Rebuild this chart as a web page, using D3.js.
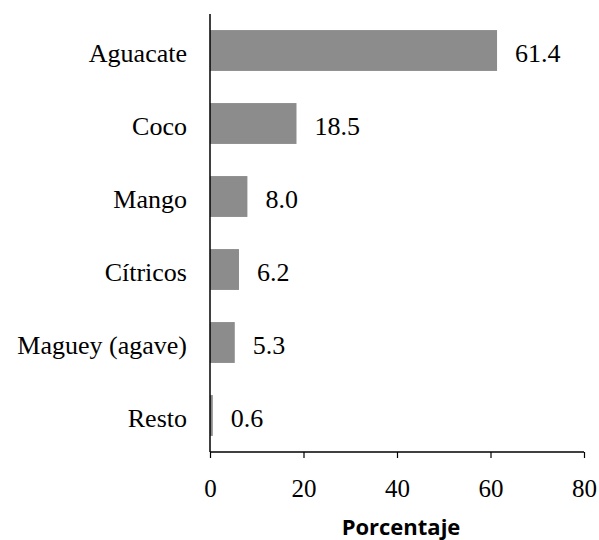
<!DOCTYPE html>
<html><head><meta charset="utf-8">
<script src="https://cdn.jsdelivr.net/npm/d3@7"></script>
</head><body style="margin:0">
<svg id="chart" width="599" height="540"></svg>
<script>
const categories = ["Aguacate", "Coco", "Mango", "Cítricos", "Maguey (agave)", "Resto"];
const values = [61.4, 18.5, 8.0, 6.2, 5.3, 0.6];
const xTicks = [0, 20, 40, 60, 80];
const xTitle = "Porcentaje";

const SERIF = '"Liberation Serif", monospace';
const svg = d3.select("#chart");
const x = d3.scaleLinear().domain([0, 80]).range([210, 584]);
const y = d3.scaleBand().domain(categories).range([14, 452]).paddingInner(0.44).paddingOuter(0.22);

svg.selectAll("rect.bar").data(categories).enter().append("rect")
  .attr("class", "bar")
  .attr("x", x(0))
  .attr("y", d => y(d))
  .attr("width", (d, i) => x(values[i]) - x(0))
  .attr("height", y.bandwidth())
  .attr("fill", "#8c8c8c");

svg.selectAll("text.val").data(categories).enter().append("text")
  .attr("class", "val")
  .attr("x", (d, i) => x(values[i]) + 18)
  .attr("y", d => y(d) + y.bandwidth() / 2 + 11)
  .style("font-family", SERIF)
  .style("font-size", "26px")
  .attr("fill", "#000")
  .text((d, i) => values[i].toFixed(1));

// x axis
const xAxis = d3.axisBottom(x).tickValues(xTicks).tickSize(6).tickPadding(0).tickFormat(d3.format("d"));
const gx = svg.append("g").attr("transform", "translate(0,452)").call(xAxis)
  .attr("font-family", null).attr("font-size", null);
gx.select(".domain").attr("stroke", "#000").attr("stroke-width", 1.5).attr("d", `M${x(0)},0H${x(80)}`);
gx.selectAll(".tick line").attr("stroke", "#000").attr("stroke-width", 1.2);
gx.selectAll(".tick text").attr("fill", "#000").attr("y", 45).attr("dy", null)
  .style("font-family", SERIF).style("font-size", "25px");

// y axis
const yAxis = d3.axisLeft(y).tickSize(0).tickPadding(23);
const gy = svg.append("g").attr("transform", `translate(${x(0)},0)`).call(yAxis)
  .attr("font-family", null).attr("font-size", null);
gy.select(".domain").attr("stroke", "#000").attr("stroke-width", 1.5).attr("d", "M0,14V452");
gy.selectAll(".tick text").attr("fill", "#000").attr("dy", null).attr("y", 11)
  .style("font-family", SERIF).style("font-size", "26px");

svg.append("text")
  .attr("x", 401).attr("y", 535)
  .attr("text-anchor", "middle")
  .style("font-family", '"Open Sans", monospace')
  .style("font-weight", "bold")
  .style("font-size", "22px")
  .attr("fill", "#000")
  .text(xTitle);
</script>
</body></html>
